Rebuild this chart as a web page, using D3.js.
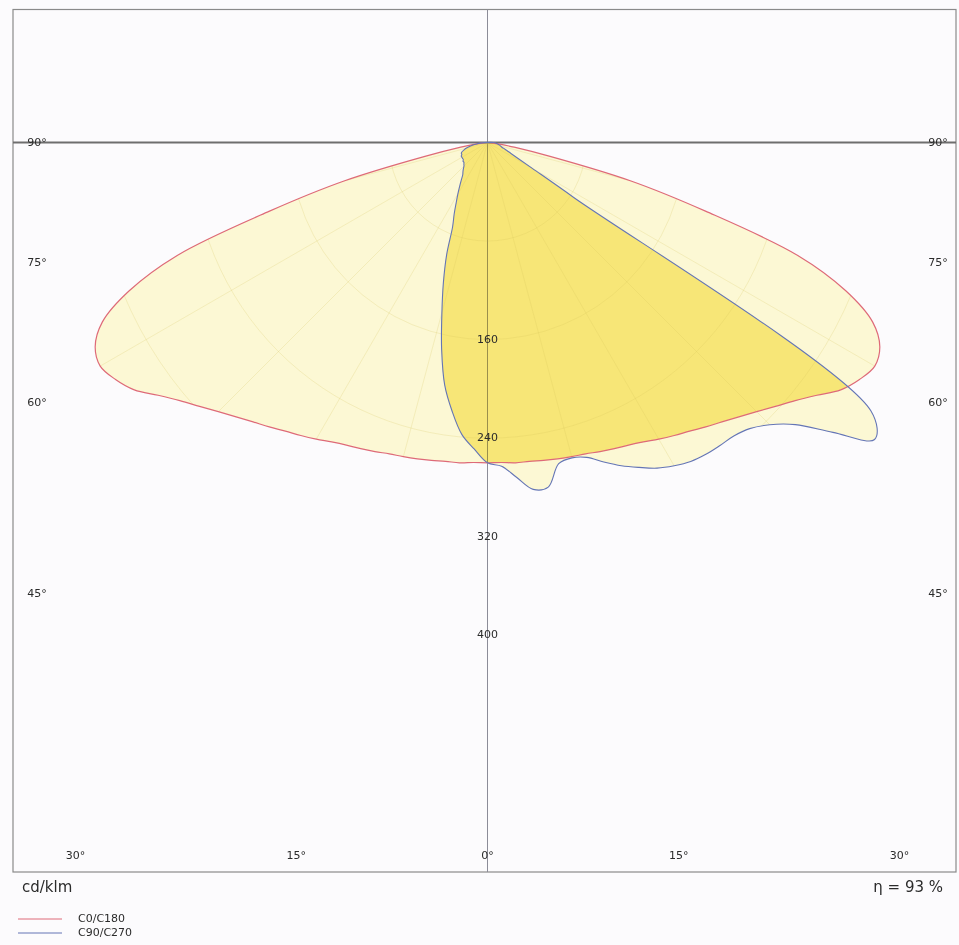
<!DOCTYPE html>
<html>
<head>
<meta charset="utf-8">
<script src="https://cdn.jsdelivr.net/npm/d3@7"></script>
<style>
  body { margin: 0; background: #fcfbfd; }
  text { font-family: "DejaVu Sans", Verdana, sans-serif; fill: #2b2b2b; }
</style>
</head>
<body>
<script>
// gamma angles (deg from nadir), 2.5 deg steps
const gamma = [0, 2.5, 5, 7.5, 10, 12.5, 15, 17.5, 20, 22.5, 25, 27.5, 30, 32.5, 35, 37.5, 40, 42.5,
  45, 47.5, 50, 52.5, 55, 57.5, 60, 62.5, 65, 67.5, 70, 72.5, 75, 77.5, 80, 82.5, 85, 87.5, 90];

// cd/klm
const intensityC0C180 = [260, 260, 261, 261, 262, 263, 264, 265, 267, 269, 271, 274, 278, 282, 286, 291, 296, 302,
  309, 317, 326, 337, 350, 358, 363, 359, 345, 315, 268, 186, 120, 52, 22, 10, 5, 2, 0];
const intensityC90 = [260, 263, 273, 284, 284, 267, 265, 268, 276, 284, 291, 298, 303, 307, 309, 310, 311, 315,
  324, 339, 366, 396, 380, 83, 42, 28, 21, 17, 14, 12, 11, 10, 9, 8, 7, 6, 5];
const intensityC270 = [260, 249, 238, 220, 200, 172, 143, 119, 97, 74, 64, 55, 48, 42, 37, 33, 31, 29,
  27, 26, 25, 25, 24, 24, 24, 24, 23, 23, 22, 20, 18, 15, 12, 9, 6, 3, 0];

const ringValues = [80, 160, 240, 320, 400, 480, 560];
const ringLabels = [160, 240, 320, 400];
const sideAngles = [90, 75, 60, 45];
const bottomAngles = [-30, -15, 0, 15, 30];
const seriesNames = ["C0/C180", "C90/C270"];
const efficiency = "η = 93 %";
const unitLabel = "cd/klm";

const width = 959, height = 945;
const cx = 487.5, cy = 142.5;
const frame = { left: 13, right: 956, top: 9.5, bottom: 872 };

const r = d3.scaleLinear().domain([0, 400]).range([0, 492.8]);
const rad = d => d * Math.PI / 180;

const svg = d3.select("body").append("svg")
  .attr("width", width)
  .attr("height", height);

svg.append("rect").attr("width", width).attr("height", height).attr("fill", "#fcfbfd");

// closed polar outline: right side (90 -> 0) then left side (0 -> 90)
function outline(right, left) {
  const pts = [];
  for (let i = gamma.length - 1; i >= 0; i--) pts.push([Math.PI - rad(gamma[i]), r(right[i])]);
  for (let i = 1; i < gamma.length - 1; i++) pts.push([Math.PI + rad(gamma[i]), r(left[i])]);
  return d3.lineRadial().curve(d3.curveCatmullRomClosed.alpha(0.5))(pts);
}
const pathC0 = outline(intensityC0C180, intensityC0C180);
const pathC90 = outline(intensityC90, intensityC270);

const defs = svg.append("defs");
defs.append("clipPath").attr("id", "clipC0").append("path").attr("d", pathC0);
const clipUnion = defs.append("clipPath").attr("id", "clipUnion");
clipUnion.append("path").attr("d", pathC0);
clipUnion.append("path").attr("d", pathC90);

// frame + axes
svg.append("rect")
  .attr("x", frame.left).attr("y", frame.top)
  .attr("width", frame.right - frame.left).attr("height", frame.bottom - frame.top)
  .attr("fill", "none").attr("stroke", "#8a8a8a").attr("stroke-width", 1.2);
svg.append("line")
  .attr("x1", cx).attr("x2", cx).attr("y1", frame.top).attr("y2", frame.bottom)
  .attr("stroke", "#8c8c98").attr("stroke-width", 1);
svg.append("line")
  .attr("x1", frame.left).attr("x2", frame.right).attr("y1", cy).attr("y2", cy)
  .attr("stroke", "#6e6e6e").attr("stroke-width", 1.8);

const plot = svg.append("g").attr("transform", `translate(${cx},${cy})`);

// fills
const fills = plot.append("g").style("mix-blend-mode", "multiply");
fills.append("path").attr("d", pathC0).attr("fill", "#fffcd6");
fills.append("path").attr("d", pathC90).attr("fill", "#fffcd6");
fills.append("path").attr("d", pathC90)
  .attr("clip-path", "url(#clipC0)")
  .attr("fill", "#faea78");

// faint polar grid inside the curves
const grid = plot.append("g").attr("clip-path", "url(#clipUnion)")
  .attr("fill", "none").attr("stroke", "#d8c25a").attr("stroke-opacity", 0.22).attr("stroke-width", 1);
grid.selectAll("circle").data(ringValues).enter().append("circle").attr("r", d => r(d));
grid.selectAll("line").data(d3.range(-90, 91, 15)).enter().append("line")
  .attr("x2", d => Math.sin(rad(d)) * r(600))
  .attr("y2", d => Math.cos(rad(d)) * r(600));

// curve outlines
plot.append("path").attr("d", pathC0)
  .attr("fill", "none").attr("stroke", "#de6a78").attr("stroke-width", 1.2);
plot.append("path").attr("d", pathC90)
  .attr("fill", "none").attr("stroke", "#6475b5").attr("stroke-width", 1.1);

// ring labels along the vertical axis
svg.selectAll(".ringLabel").data(ringLabels).enter().append("text")
  .attr("x", cx).attr("y", d => cy + r(d))
  .attr("text-anchor", "middle").attr("dominant-baseline", "middle")
  .attr("font-size", 11).text(d => d);

// angle labels on the sides
const sideOffset = 451;
[-1, 1].forEach(s => {
  svg.selectAll(null).data(sideAngles).enter().append("text")
    .attr("x", cx + s * 450.5)
    .attr("y", d => cy + sideOffset * Math.cos(rad(d)) / Math.sin(rad(d)))
    .attr("text-anchor", "middle").attr("dominant-baseline", "middle")
    .attr("font-size", 11).text(d => d + "°");
});
// angle labels at the bottom
const bottomY = 856;
svg.selectAll(null).data(bottomAngles).enter().append("text")
  .attr("x", d => cx + (bottomY - cy) * Math.tan(rad(d)))
  .attr("y", bottomY)
  .attr("text-anchor", "middle").attr("dominant-baseline", "middle")
  .attr("font-size", 11).text(d => Math.abs(d) + "°");

// unit + efficiency
svg.append("text").attr("x", 22).attr("y", 892).attr("font-size", 15).text(unitLabel);
svg.append("text").attr("x", 943).attr("y", 892).attr("text-anchor", "end").attr("font-size", 15).text(efficiency);

// legend
const legendColors = ["#de6a78", "#6475b5"];
const legend = svg.selectAll(".legend").data(seriesNames).enter().append("g")
  .attr("transform", (d, i) => `translate(18, ${919 + i * 14})`);
legend.append("line").attr("x1", 0).attr("x2", 44).attr("stroke", (d, i) => legendColors[i]).attr("stroke-width", 1);
legend.append("text").attr("x", 60).attr("dominant-baseline", "middle").attr("font-size", 11).text(d => d);
</script>
</body>
</html>
